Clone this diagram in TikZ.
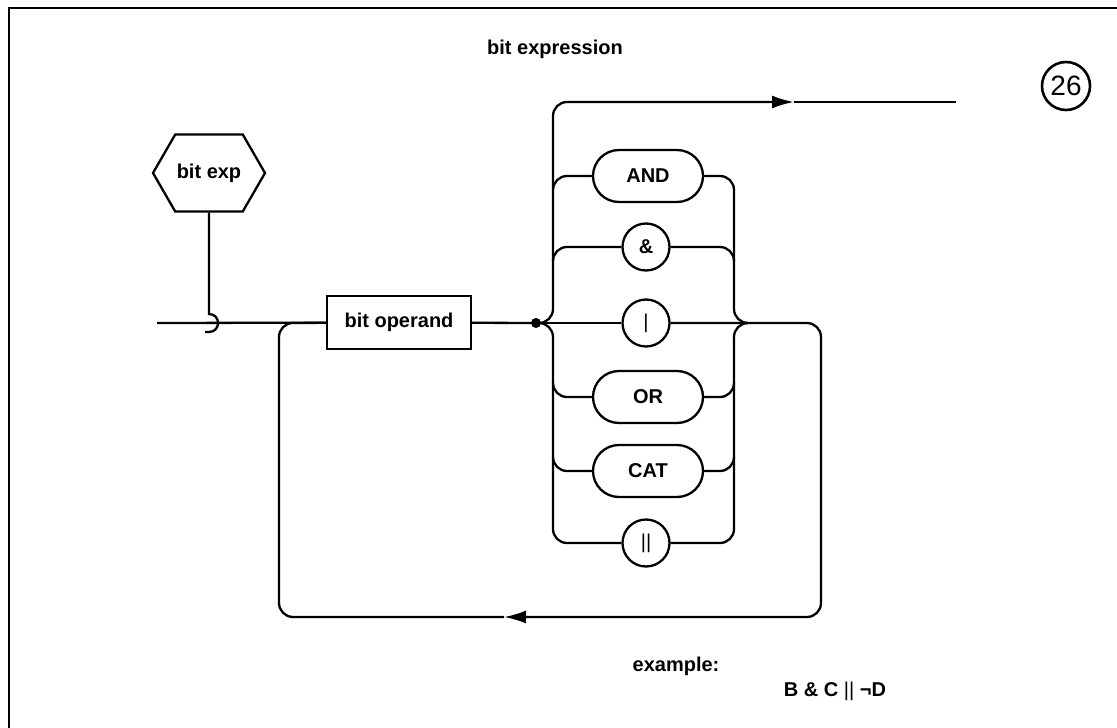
\documentclass[tikz,border=0pt]{standalone}
\usepackage{fontspec}
\setmainfont{Liberation Sans}
\usetikzlibrary{shapes.misc,shapes.symbols,arrows.meta,positioning}

\begin{document}
\begin{tikzpicture}[
    x=1pt, y=-1pt,
    line width=2.3pt,
    font=\fontsize{20}{24}\selectfont\bfseries,
    >={Latex[length=22pt,width=13pt]},
    term/.style={rounded rectangle, draw, minimum width=110pt, minimum height=52pt, inner sep=0pt},
    sym/.style={circle, draw, minimum size=47pt, inner sep=0pt},
    nonterm/.style={rectangle, draw, minimum width=144pt, minimum height=53pt, inner sep=0pt},
    rail/.style={rounded corners=14pt}
]
\useasboundingbox (0,0) rectangle (1117,728);

% frame
\draw[line width=2.5pt] (9,728) -- (9,8) -- (1117,8);

% title and number
\node (title) at (555,49) {bit expression};
\node[circle, draw, line width=2.6pt, minimum size=48pt, inner sep=0pt, font=\fontsize{28}{30}\selectfont] (num) at (1066,86) {26};

% entry
\node[signal, signal to=west and east, signal pointer angle=120, draw, minimum width=112pt, minimum height=77pt, inner sep=0pt] (bitexp) at (209,173) {bit exp};
\node[nonterm] (opnd) at (399,322.5) {bit operand};

% operators
\node[term] (and) at (648,176) {AND};
\node[sym] (amp) at (646,247) {\&};
\node[sym] (bar) at (646,323) {\mdseries|};
\node[term] (or) at (648,397) {OR};
\node[term] (cat) at (648,471) {CAT};
\node[sym] (cc) at (646,543) {\mdseries||};

% example
\node (exlabel) at (676,666) {example:};
\node (extext) at (835,691) {B \& C {\mdseries||} ¬D};

% rail points
\coordinate (start) at (157,323);
\coordinate (hook) at (209,323);
\coordinate (dot) at (536,323);
\coordinate (up) at (794,102);
\coordinate (exit) at (956,102);
\coordinate (back) at (504,617);

% main line
\draw (start) -- (opnd);
\draw (bitexp) -- ([yshift=9pt]hook) .. controls +(12pt,0) and +(12pt,0) .. ([yshift=-9pt]hook) -- +(-4pt,0);
\draw (opnd) -- (dot);
\fill (dot) circle (5pt);

% left rail
\draw[rail,->] (dot) -| (553,102) -- (up);
\draw (up) -- (exit);
\draw[rail] (dot) -| (553,543) -- (cc);
\draw (dot) -- (bar);
\draw[rail] (553,190) |- (and);
\draw[rail] (553,261) |- (amp);
\draw[rail] (553,383) |- (or);
\draw[rail] (553,457) |- (cat);

% right rail
\draw[rail] (and) -| (734,323) -- (748,323);
\draw[rail] (amp) -| (734,261);
\draw[rail] (cc) -| (734,323) -- (748,323);
\draw[rail] (or) -| (734,383);
\draw[rail] (cat) -| (734,457);

% loop back
\draw[rail,->] (bar) -| (821,617) -- (back);
\draw[rail] (back) -| (279,323) -- (opnd);

\end{tikzpicture}
\end{document}
